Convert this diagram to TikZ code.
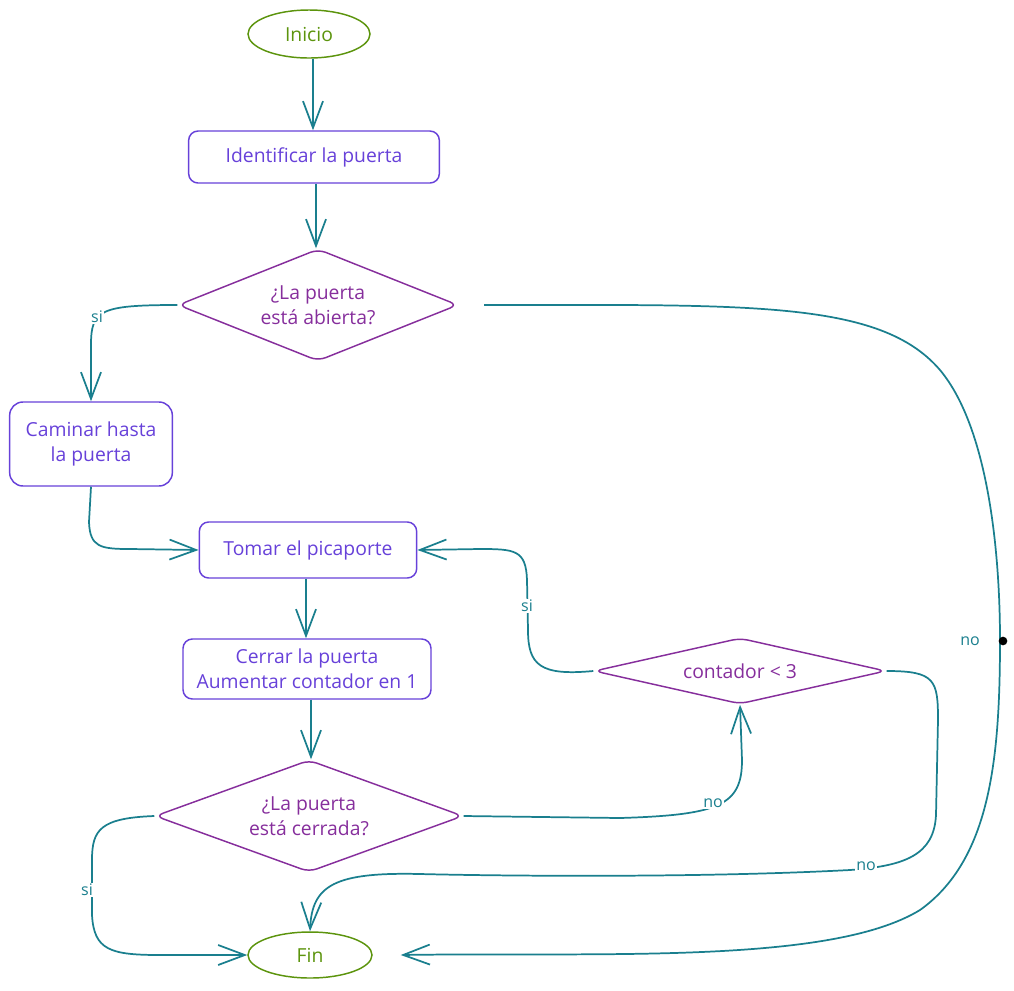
\documentclass[tikz,border=0pt]{standalone}
\usepackage{fontspec}
\setmainfont{Open Sans}
\usetikzlibrary{arrows.meta,shapes.geometric}

\definecolor{termgreen}{HTML}{5C940D}
\definecolor{procviolet}{HTML}{6741D9}
\definecolor{decigrape}{HTML}{862E9C}
\definecolor{flowteal}{HTML}{1A7F8E}

\begin{document}
\begin{tikzpicture}[x=0.75pt,y=-0.75pt,
  font=\fontsize{14.5}{19}\selectfont,
  term/.style={ellipse, draw=termgreen, text=termgreen, line width=1.1pt, inner sep=0pt},
  proc/.style={rectangle, rounded corners=7pt, draw=procviolet, text=procviolet, line width=1.1pt, align=center},
  deci/.style={diamond, rounded corners=6pt, draw=decigrape, text=decigrape, line width=1.1pt, inner sep=0pt, align=center},
  flow/.style={draw=flowteal, line width=1.3pt, -{Straight Barb[length=20pt,width=15pt]}},
  lbl/.style={fill=white, text=flowteal, inner sep=1pt, font=\fontsize{12}{14}\selectfont}]
\useasboundingbox (0,0) rectangle (1014,990);
\node[term, minimum width=91.5pt, minimum height=36pt] (inicio) at (309,34) {Inicio};
\node[proc, minimum width=188pt, minimum height=39pt] (ident) at (314,157) {Identificar la puerta};
\node[deci, aspect=2.5, minimum width=210pt, minimum height=84pt] (abierta) at (318,305) {¿La puerta\\ está abierta?};
\node[proc, rounded corners=10pt, minimum width=122pt, minimum height=63pt] (caminar) at (91,444) {Caminar hasta\\la puerta};
\node[proc, minimum width=163pt, minimum height=42pt] (tomar) at (308,550) {Tomar el picaporte};
\node[proc, minimum width=186pt, minimum height=45pt] (cerrar) at (307,669) {Cerrar la puerta\\Aumentar contador en 1};
\node[deci, aspect=2.75, minimum width=231pt, minimum height=84pt] (cerrada) at (309,816) {¿La puerta\\ está cerrada?};
\node[deci, aspect=4.4, minimum width=219pt, minimum height=49.5pt] (contador) at (740,671) {contador < 3};
\node[term, minimum width=93pt, minimum height=34.5pt] (fin) at (310,955) {Fin};
\draw[flow] ([xshift=3pt]inicio.south) -- ([xshift=-0.75pt]ident.north);
\draw[flow] ([xshift=1.5pt]ident.south) -- ([xshift=-1.5pt]abierta.north);
\draw[flow] (abierta.west) .. controls (100,305) and (91,310) .. (91,345) -- (caminar.north);
\draw[flow] ([xshift=19pt]abierta.east) .. controls (750,305) and (880,300) .. (940,370) .. controls (990,430) and (1000,560) .. (1000,640) .. controls (1000,760) and (990,860) .. (920,910) .. controls (830,965) and (600,952) .. ([xshift=21pt]fin.east);
\draw[flow] (caminar.south) -- (89,522) .. controls (90,547) and (100,549) .. (130,549) -- (tomar.west);
\draw[flow] ([xshift=-1.5pt]tomar.south) -- ([xshift=-0.75pt]cerrar.north);
\draw[flow] ([xshift=3pt]cerrar.south) -- ([xshift=1.5pt]cerrada.north);
\draw[flow] (cerrada.east) -- (620,818) .. controls (720,815) and (742,805) .. (742,760) -- (contador.south);
\draw[flow] (cerrada.west) .. controls (100,818) and (92,830) .. (92,860) -- (92,915) .. controls (94,950) and (110,955) .. (160,955) -- (fin.west);
\draw[flow] (contador.west) .. controls (540,676) and (528,665) .. (528,630) -- (527,580) .. controls (526,550) and (515,549) .. (480,549) -- (tomar.east);
\draw[flow] (contador.east) .. controls (935,671) and (938,680) .. (938,720) -- (936,815) .. controls (934,855) and (905,866) .. (850,870) .. controls (700,878) and (500,876) .. (420,874) .. controls (335,872) and (312,885) .. (fin.north);
\node[lbl] (siabierta) at (97,317) {si};
\node[lbl] (noabierta) at (970,641) {no};
\node[circle, fill=black, inner sep=0pt, minimum size=6.5pt] (handle) at (1003,641) {};
\node[lbl] (nocerrada) at (713,803) {no};
\node[lbl] (sicerrada) at (87,890) {si};
\node[lbl] (sicontador) at (527,606) {si};
\node[lbl] (nocontador) at (866,866) {no};
\end{tikzpicture}
\end{document}
